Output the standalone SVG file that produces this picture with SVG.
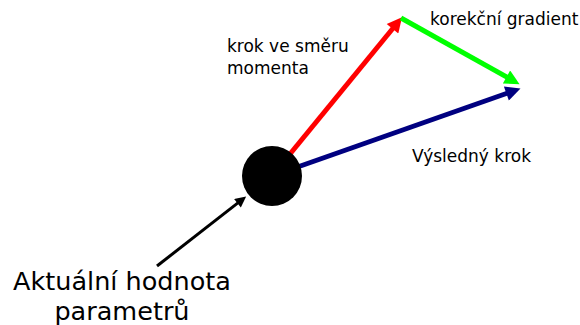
<svg xmlns="http://www.w3.org/2000/svg" width="580" height="325" viewBox="0 0 580 325">
<style>
text{font-family:"DejaVu Sans","Liberation Sans",sans-serif;fill:#000}
.s{font-size:17px}
.b{font-size:25.5px}
.c{fill:none;stroke-linecap:butt}
</style>
<defs>
<marker id="mr" markerUnits="userSpaceOnUse" markerWidth="17" markerHeight="15" viewBox="0 0 10 10" refX="2" refY="5" orient="auto"><path d="M0,0L10,5L0,10z" fill="#ff0000"/></marker>
<marker id="mg" markerUnits="userSpaceOnUse" markerWidth="17" markerHeight="15" viewBox="0 0 10 10" refX="2" refY="5" orient="auto"><path d="M0,0L10,5L0,10z" fill="#00ff00"/></marker>
<marker id="mb" markerUnits="userSpaceOnUse" markerWidth="17" markerHeight="15" viewBox="0 0 10 10" refX="2" refY="5" orient="auto"><path d="M0,0L10,5L0,10z" fill="#000080"/></marker>
<marker id="mk" markerUnits="userSpaceOnUse" markerWidth="14" markerHeight="11" viewBox="0 0 10 10" refX="2" refY="5" orient="auto"><path d="M0,0L10,5L0,10z" fill="#000"/></marker>
</defs>
<g id="connectors">
<line class="c" x1="272" y1="176" x2="394.4" y2="26.5" stroke="#ff0000" stroke-width="5" marker-end="url(#mr)"/>
<line class="c" x1="272" y1="176" x2="509.2" y2="92.5" stroke="#000080" stroke-width="5" marker-end="url(#mb)"/>
<line class="c" x1="401" y1="18" x2="509.1" y2="78.4" stroke="#00ff00" stroke-width="5" marker-end="url(#mg)"/>
<line class="c" x1="157" y1="266" x2="239.2" y2="201.9" stroke="#000" stroke-width="3" marker-end="url(#mk)"/>
</g>
<g id="point">
<circle cx="272" cy="176" r="30" fill="#000"/>
</g>
<g id="label-momentum">
<text class="s" x="227" y="52">krok ve směru</text>
<text class="s" x="227" y="74">momenta</text>
</g>
<g id="label-gradient">
<text class="s" x="430" y="25">korekční gradient</text>
</g>
<g id="label-result">
<text class="s" x="412" y="162">Výsledný krok</text>
</g>
<g id="label-current">
<text class="b" x="122" y="290" text-anchor="middle">Aktuální hodnota</text>
<text class="b" x="122" y="320" text-anchor="middle">parametrů</text>
</g>
</svg>
